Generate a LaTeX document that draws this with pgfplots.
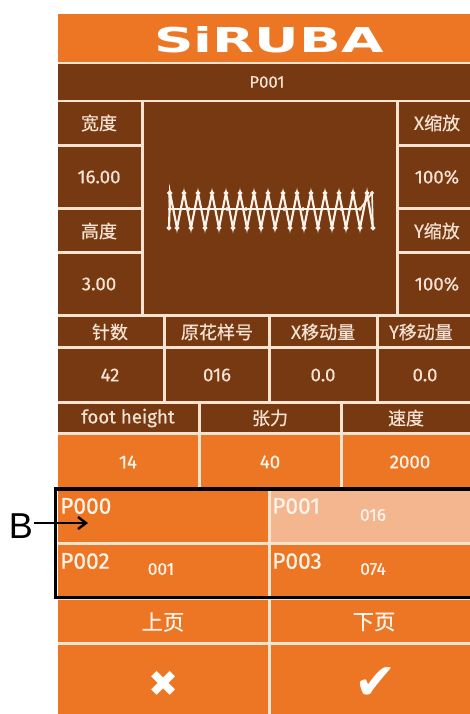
\documentclass[border=0pt]{standalone}
\usepackage{pgfplots}
\pgfplotsset{compat=1.18}
\usepackage{fontspec}
\setmainfont{Fira Sans}[UprightFeatures={FakeBold=0.6}]
\newfontfamily\cjk{Noto Sans CJK SC}[UprightFeatures={FakeBold=0.5}]
\newfontfamily\sym{DejaVu Sans}
\newfontfamily\arial{Liberation Sans}
\usetikzlibrary{arrows.meta}
\definecolor{orng}{RGB}{237,118,36}
\definecolor{brwn}{RGB}{118,57,18}
\definecolor{peach}{RGB}{243,182,142}
\definecolor{sep}{RGB}{248,226,208}
\definecolor{txtb}{RGB}{246,226,210}
\definecolor{txto}{RGB}{255,243,234}
\definecolor{dotc}{RGB}{90,80,210}
\newcommand{\fs}[1]{\fontsize{#1}{#1}\selectfont}
\begin{document}
\begin{tikzpicture}
\begin{axis}[width=352.5pt,height=535.5pt,scale only axis,
  xmin=0,xmax=470,ymin=0,ymax=714,y dir=reverse,hide axis,clip=false]
% panel background (separator colour)
\fill[sep] (58,14) rectangle (470,714);
% header
\fill[orng] (58,14) rectangle (470,62);
\fill[brwn] (58,64) rectangle (470,100);
% left column
\fill[brwn] (58,102) rectangle (141,144);
\fill[brwn] (58,147) rectangle (141,207);
\fill[brwn] (58,210) rectangle (141,251);
\fill[brwn] (58,254) rectangle (141,314);
% centre
\fill[brwn] (144,102) rectangle (396,314);
% right column
\fill[brwn] (399,102) rectangle (470,144);
\fill[brwn] (399,147) rectangle (470,207);
\fill[brwn] (399,210) rectangle (470,251);
\fill[brwn] (399,254) rectangle (470,314);
% row labels
\fill[brwn] (58,317) rectangle (163,346);
\fill[brwn] (166,317) rectangle (268,346);
\fill[brwn] (271,317) rectangle (376,346);
\fill[brwn] (379,317) rectangle (470,346);
\fill[brwn] (58,349) rectangle (163,401);
\fill[brwn] (166,349) rectangle (268,401);
\fill[brwn] (271,349) rectangle (376,401);
\fill[brwn] (379,349) rectangle (470,401);
% foot height row
\fill[brwn] (58,404) rectangle (198,432);
\fill[brwn] (201,404) rectangle (340,432);
\fill[brwn] (343,404) rectangle (470,432);
\fill[orng] (58,435) rectangle (198,489);
\fill[orng] (201,435) rectangle (340,489);
\fill[orng] (343,435) rectangle (470,489);
% pattern list
\fill[orng] (58,490) rectangle (268,542);
\fill[peach] (271,490) rectangle (470,542);
\fill[orng] (58,545) rectangle (268,597);
\fill[orng] (271,545) rectangle (470,597);
\fill[orng] (58,600) rectangle (268,642);
\fill[orng] (271,600) rectangle (470,642);
\fill[orng] (58,645) rectangle (268,714);
\fill[orng] (271,645) rectangle (470,714);
% black box (right side cut off by the picture edge)
\draw[black,line width=2.4pt] (470,489) -- (55.5,489) -- (55.5,597.5) -- (470,597.5);
% stitch pattern
\addplot[color=txto,line width=1.6pt,mark=*,mark size=0.8pt,
  mark options={fill=dotc,draw=none}] coordinates {
(169,228)(170,193)(177,228)(184,193)(191,228)(198,193)(205,228)(212,193)
(219,228)(226,193)(233,228)(240,193)(247,228)(254,193)(261,228)(268,193)
(275,228)(283,193)(290,228)(297,193)(304,228)(311,193)(318,228)(325,193)
(332,228)(339,193)(346,228)(353,193)(360,228)(367,193)(373,228)};
\addplot[color=txto,line width=1.2pt,mark=*,mark size=0.8pt,
  mark options={fill=dotc,draw=none}] coordinates {
(373,228)(372,193)(360,209)(341,209)(322,209)(303,209)(284,209)(265,209)
(246,209)(227,209)(208,209)(189,209)(170,209)(169,193)};
% texts
\node[text=white] at (269,40) {\resizebox{172pt}{19.5pt}{\sym\bfseries SiRUBA}};
\node[text=txtb,font=\fs{12.5}] at (267,82) {P001};
\node[text=txtb,font=\cjk\fs{13.5}] at (99,123) {宽度};
\node[text=txtb,font=\fs{14}] at (99,177) {16.00};
\node[text=txtb,font=\cjk\fs{13.5}] at (99,231) {高度};
\node[text=txtb,font=\fs{14}] at (99,284) {3.00};
\node[text=txtb,font=\cjk\fs{13.5}] at (437,123) {X缩放};
\node[text=txtb,font=\fs{14}] at (437,177) {100\%};
\node[text=txtb,font=\cjk\fs{13.5}] at (437,231) {Y缩放};
\node[text=txtb,font=\fs{14}] at (437,284) {100\%};
\node[text=txtb,font=\cjk\fs{13.5}] at (110,332) {针数};
\node[text=txtb,font=\cjk\fs{13.5}] at (217,332) {原花样号};
\node[text=txtb,font=\cjk\fs{13.5}] at (323,332) {X移动量};
\node[text=txtb,font=\cjk\fs{13.5}] at (421,332) {Y移动量};
\node[text=txtb,font=\fs{14}] at (110,375) {42};
\node[text=txtb,font=\fs{14}] at (217,375) {016};
\node[text=txtb,font=\fs{14}] at (323,375) {0.0};
\node[text=txtb,font=\fs{14}] at (425,375) {0.0};
\node[text=txtb,font=\fs{14}] at (128,418) {foot height};
\node[text=txtb,font=\cjk\fs{13.5}] at (270,418) {张力};
\node[text=txtb,font=\cjk\fs{13.5}] at (406,418) {速度};
\node[text=txto,font=\fs{14}] at (128,462) {14};
\node[text=txto,font=\fs{14}] at (270,462) {40};
\node[text=txto,font=\fs{14}] at (410,462) {2000};
\node[text=txto,font=\fs{17},anchor=west,inner sep=0pt] at (60,506) {P000};
\node[text=txto,font=\fs{17},anchor=west,inner sep=0pt] at (272,506) {P001};
\node[text=txto,font=\fs{13}] at (373,515) {016};
\node[text=txto,font=\fs{17},anchor=west,inner sep=0pt] at (60,561) {P002};
\node[text=txto,font=\fs{13}] at (161,569) {001};
\node[text=txto,font=\fs{17},anchor=west,inner sep=0pt] at (272,561) {P003};
\node[text=txto,font=\fs{13}] at (373,569) {074};
\node[text=txto,font=\cjk\fs{16}] at (163,622) {上页};
\node[text=txto,font=\cjk\fs{16}] at (374,622) {下页};
\node[text=white,font=\sym\fs{27}] at (164,684) {✖};
\node[text=white,font=\sym\fs{38}] at (376,684) {✔};
% B label and arrow
\node[text=black,font=\arial\fs{27}] at (21,526) {B};
\draw[black,line width=1.8pt,-{Straight Barb[length=6pt,width=9pt]}] (34,523) -- (88,523);
\end{axis}
\pgfresetboundingbox
\path (current axis.south west) rectangle (current axis.north east);
\end{tikzpicture}
\end{document}
